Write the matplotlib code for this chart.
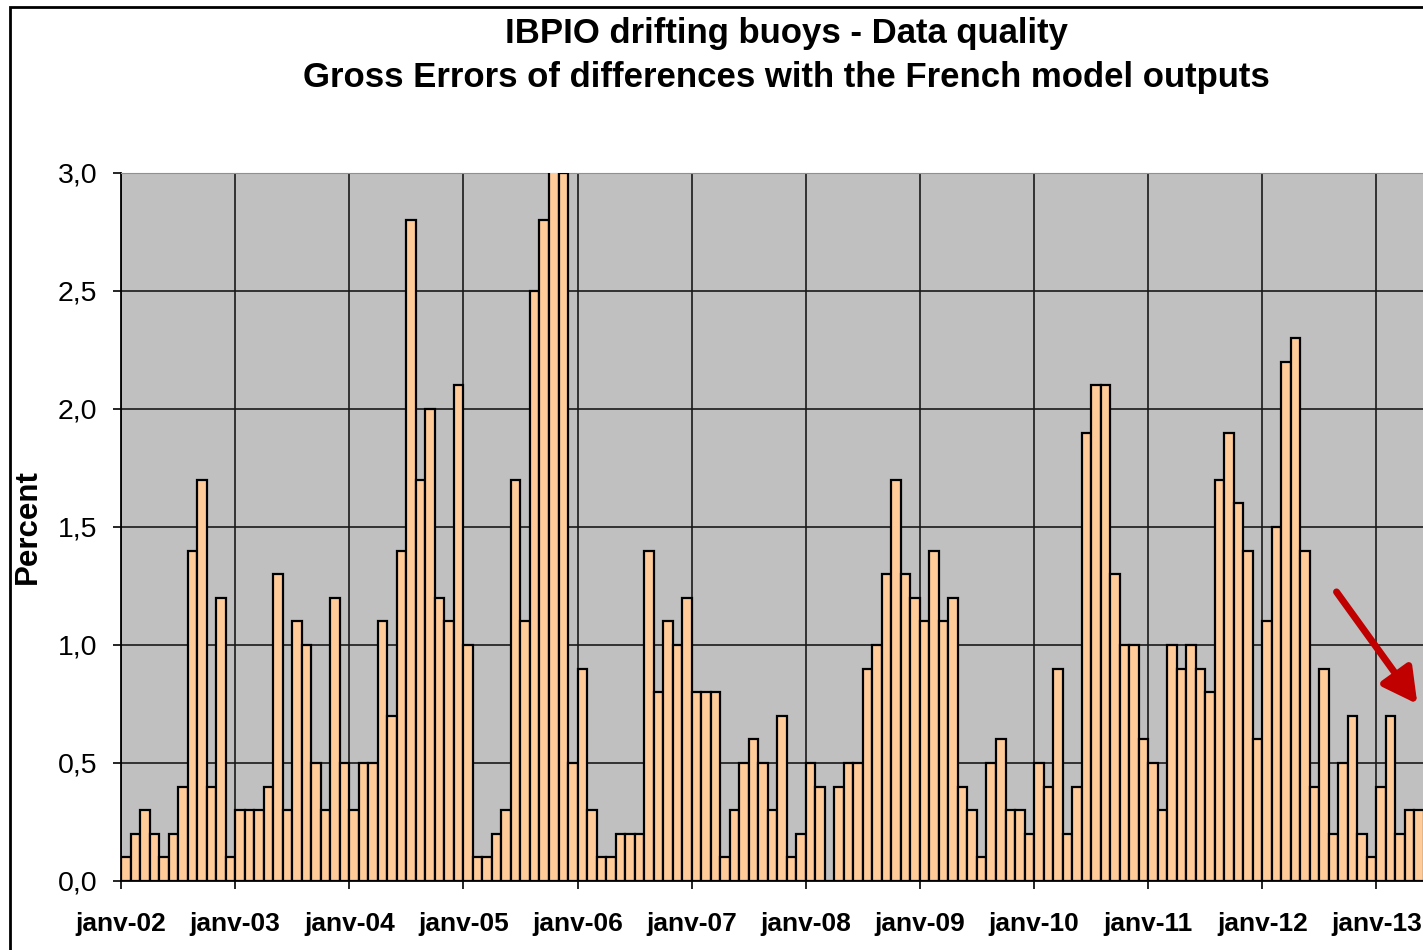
import numpy as np
import matplotlib
matplotlib.use("Agg")
import matplotlib.pyplot as plt
from matplotlib.patches import Rectangle

plt.rcParams["font.family"] = ["Liberation Sans", "DejaVu Sans"]

# monthly values, percent
y2002 = [0.1, 0.2, 0.3, 0.2, 0.1, 0.2, 0.4, 1.4, 1.7, 0.4, 1.2, 0.1]
y2003 = [0.3, 0.3, 0.3, 0.4, 1.3, 0.3, 1.1, 1.0, 0.5, 0.3, 1.2, 0.5]
y2004 = [0.3, 0.5, 0.5, 1.1, 0.7, 1.4, 2.8, 1.7, 2.0, 1.2, 1.1, 2.1]
y2005 = [1.0, 0.1, 0.1, 0.2, 0.3, 1.7, 1.1, 2.5, 2.8, 3.2, 3.0, 0.5]
y2006 = [0.9, 0.3, 0.1, 0.1, 0.2, 0.2, 0.2, 1.4, 0.8, 1.1, 1.0, 1.2]
y2007 = [0.8, 0.8, 0.8, 0.1, 0.3, 0.5, 0.6, 0.5, 0.3, 0.7, 0.1, 0.2]
y2008 = [0.5, 0.4, 0.0, 0.4, 0.5, 0.5, 0.9, 1.0, 1.3, 1.7, 1.3, 1.2]
y2009 = [1.1, 1.4, 1.1, 1.2, 0.4, 0.3, 0.1, 0.5, 0.6, 0.3, 0.3, 0.2]
y2010 = [0.5, 0.4, 0.9, 0.2, 0.4, 1.9, 2.1, 2.1, 1.3, 1.0, 1.0, 0.6]
y2011 = [0.5, 0.3, 1.0, 0.9, 1.0, 0.9, 0.8, 1.7, 1.9, 1.6, 1.4, 0.6]
y2012 = [1.1, 1.5, 2.2, 2.3, 1.4, 0.4, 0.9, 0.2, 0.5, 0.7, 0.2, 0.1]
y2013 = [0.4, 0.7, 0.2, 0.3, 0.3]

year_labels = ["janv-02", "janv-03", "janv-04", "janv-05", "janv-06", "janv-07",
               "janv-08", "janv-09", "janv-10", "janv-11", "janv-12", "janv-13"]
y_ticks = [0.0, 0.5, 1.0, 1.5, 2.0, 2.5, 3.0]

values = (y2002 + y2003 + y2004 + y2005 + y2006 + y2007 + y2008 + y2009
          + y2010 + y2011 + y2012 + y2013)
x = np.arange(len(values)) + 0.5

fig = plt.figure(figsize=(14.23, 9.5), dpi=100)
ax = fig.add_axes([121 / 1423, 1 - 881 / 950, 1303 / 1423, 708 / 950])
ax.set_facecolor("#C0C0C0")

ax.bar(x, values, width=1.0, color="#FFCC99", edgecolor="black", linewidth=1.6, zorder=3)

ax.set_xlim(0, len(values))
ax.set_ylim(0, 3.0)

ax.set_xticks(np.arange(len(year_labels)) * 12)
ax.set_xticklabels(year_labels, fontsize=19, fontweight="bold")
ax.set_yticks(y_ticks)
ax.set_yticklabels([f"{v:.1f}".replace(".", ",") for v in y_ticks], fontsize=20.5)
ax.tick_params(axis="both", direction="out", length=6, width=1.2, color="black")
ax.tick_params(axis="x", pad=16)
ax.tick_params(axis="y", pad=11)

ax.grid(True, color="#1a1a1a", linewidth=1.2, zorder=1)
ax.set_axisbelow(True)

ax.spines["right"].set_visible(False)
ax.spines["top"].set_color("#909090")
ax.spines["left"].set_linewidth(1.3)
ax.spines["bottom"].set_linewidth(1.3)

fig.text(28 / 1423, 1 - 527 / 950, "Percent", rotation=90, ha="center", va="center",
         fontsize=22.5, fontweight="bold")

# red arrow
ax.annotate("", xy=(136.3, 0.75), xytext=(127.8, 1.225),
            arrowprops=dict(arrowstyle="-|>,head_length=1.3,head_width=0.7",
                            mutation_scale=16, color="#C00000", lw=5,
                            shrinkA=0, shrinkB=0),
            zorder=5, annotation_clip=False)

fig.text(0.5525, 1 - 33 / 950, "IBPIO drifting buoys - Data quality",
         ha="center", va="center", fontsize=25, fontweight="bold")
fig.text(0.5525, 1 - 77 / 950, "Gross Errors of differences with the French model outputs",
         ha="center", va="center", fontsize=25, fontweight="bold")

# chart frame (right/bottom edges fall outside the picture)
fig.add_artist(Rectangle((10 / 1423, -0.1), 1.2, 1 - 7 / 950 + 0.1,
                         transform=fig.transFigure, fill=False,
                         edgecolor="black", linewidth=2, clip_on=False))

fig.savefig("out.png", dpi=100)
